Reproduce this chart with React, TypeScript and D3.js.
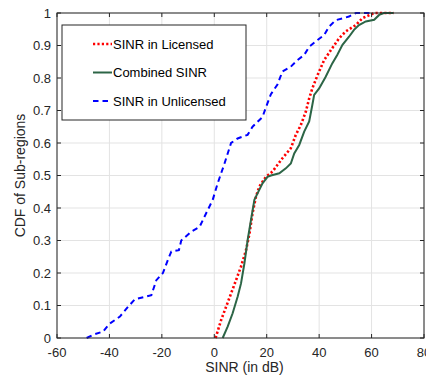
import React from 'react';
import * as d3 from 'd3';

// CDF curves (x = SINR in dB, y = CDF)
const licensedX = [0.5, 2.6, 4.5, 6.4, 8.3, 10.2, 12.1, 13.4, 14.6, 15.9, 17.2, 18.4, 19.7, 22.2, 26, 29.2, 31.1, 33, 34.9, 36.2, 37.4, 39.4, 41.9, 44.5, 47.6, 50.1, 54, 56.5, 61, 68.4];
const licensedY = [0, 0.055, 0.096, 0.137, 0.178, 0.22, 0.27, 0.32, 0.384, 0.435, 0.466, 0.481, 0.496, 0.512, 0.553, 0.584, 0.625, 0.655, 0.696, 0.737, 0.768, 0.809, 0.855, 0.886, 0.922, 0.943, 0.963, 0.984, 1, 1];

const combinedX = [3.2, 5.1, 7, 8.9, 10.2, 11.5, 12.7, 14, 15.3, 16.5, 18.4, 20.3, 21.6, 24.8, 27.3, 29.2, 30.5, 32.4, 34.3, 36.2, 37.4, 38.1, 40, 42.5, 45, 46.9, 48.9, 51.4, 53.3, 55.2, 57.8, 61, 62.9, 64.7, 68.4];
const combinedY = [0, 0.035, 0.076, 0.127, 0.168, 0.23, 0.3, 0.363, 0.425, 0.445, 0.476, 0.496, 0.5, 0.507, 0.522, 0.537, 0.568, 0.594, 0.635, 0.666, 0.717, 0.748, 0.768, 0.804, 0.845, 0.871, 0.902, 0.927, 0.948, 0.963, 0.974, 0.979, 0.994, 1, 1];

const unlicensedX = [-48.7, -46.2, -42.4, -40.1, -36, -32.9, -30.3, -24, -22.1, -19.6, -17.7, -16.4, -13.5, -12.6, -8.8, -5.6, -3.1, -0.6, 1.3, 3.9, 6.4, 8.9, 12.7, 14.6, 18.4, 19.7, 21.6, 24.1, 26, 29.2, 31.7, 34.3, 36.2, 39.4, 41.9, 43.8, 46.3, 51.4, 54, 59.7];
const unlicensedY = [0, 0.01, 0.02, 0.043, 0.066, 0.096, 0.119, 0.132, 0.178, 0.2, 0.24, 0.266, 0.27, 0.3, 0.327, 0.342, 0.384, 0.425, 0.476, 0.537, 0.6, 0.614, 0.625, 0.65, 0.68, 0.71, 0.75, 0.78, 0.82, 0.835, 0.855, 0.871, 0.896, 0.917, 0.932, 0.958, 0.978, 0.989, 1, 1];

const xTicks = [-60, -40, -20, 0, 20, 40, 60, 80];
const yTicks = [0, 0.1, 0.2, 0.3, 0.4, 0.5, 0.6, 0.7, 0.8, 0.9, 1];

const seriesNames = ['SINR in Licensed', 'Combined SINR', 'SINR in Unlicensed'];

const W = 426;
const H = 381;
const font = 'Liberation Sans, Arial, sans-serif';

export default function App() {
  const margin = { top: 13, right: 2, bottom: 43, left: 57 };
  const x = d3.scaleLinear().domain([-60, 80]).range([margin.left, W - margin.right]);
  const y = d3.scaleLinear().domain([0, 1]).range([H - margin.bottom, margin.top]);

  const line = d3.line<[number, number]>()
    .x(d => x(d[0]))
    .y(d => y(d[1]));

  const zip = (xs: number[], ys: number[]) => xs.map((v, i) => [v, ys[i]] as [number, number]);

  const series = [
    { name: seriesNames[0], pts: zip(licensedX, licensedY), color: '#ff0000', width: 2.6, dash: '2.2,2.2' },
    { name: seriesNames[1], pts: zip(combinedX, combinedY), color: '#2c6546', width: 2, dash: null },
    { name: seriesNames[2], pts: zip(unlicensedX, unlicensedY), color: '#0000ff', width: 2, dash: '5.5,4' },
  ];

  const [x0, x1] = x.range();
  const [y0, y1] = y.range();
  const axisColor = '#262626';

  return (
    <div style={{ position: 'fixed', left: 0, top: 0 }}>
      <svg width={W} height={H} style={{ display: 'block', background: '#fff' }}>
        {/* grid */}
        {xTicks.map(t => (
          <line key={'gx' + t} x1={x(t)} x2={x(t)} y1={y0} y2={y1} stroke="#e3e3e3" strokeWidth={1} />
        ))}
        {yTicks.map(t => (
          <line key={'gy' + t} x1={x0} x2={x1} y1={y(t)} y2={y(t)} stroke="#e3e3e3" strokeWidth={1} />
        ))}

        {/* curves */}
        {[series[2], series[0], series[1]].map(s => (
          <path key={s.name} d={line(s.pts) ?? ''} fill="none" stroke={s.color}
            strokeWidth={s.width} strokeDasharray={s.dash ?? undefined} />
        ))}

        {/* axes box + inward ticks */}
        <rect x={x0} y={y1} width={x1 - x0} height={y0 - y1} fill="none" stroke={axisColor} strokeWidth={1} />
        {xTicks.map(t => (
          <g key={'tx' + t}>
            <line x1={x(t)} x2={x(t)} y1={y0} y2={y0 - 4} stroke={axisColor} />
            <line x1={x(t)} x2={x(t)} y1={y1} y2={y1 + 4} stroke={axisColor} />
            <text x={x(t)} y={y0 + 19} textAnchor="middle" fontFamily={font} fontSize={13} fill="#262626">{t}</text>
          </g>
        ))}
        {yTicks.map(t => (
          <g key={'ty' + t}>
            <line x1={x0} x2={x0 + 4} y1={y(t)} y2={y(t)} stroke={axisColor} />
            <line x1={x1} x2={x1 - 4} y1={y(t)} y2={y(t)} stroke={axisColor} />
            <text x={x0 - 6} y={y(t) + 4.5} textAnchor="end" fontFamily={font} fontSize={13} fill="#262626">{t}</text>
          </g>
        ))}

        {/* axis labels */}
        <text x={(x0 + x1) / 2 + 4} y={372} textAnchor="middle" fontFamily={font} fontSize={14} fill="#262626">SINR (in dB)</text>
        <text transform={`translate(25,${(y0 + y1) / 2}) rotate(-90)`} textAnchor="middle" fontFamily={font} fontSize={14} fill="#262626">CDF of Sub-regions</text>

        {/* legend */}
        <g transform="translate(62,25)">
          <rect x={0} y={0} width={184} height={95} fill="#fff" stroke={axisColor} strokeWidth={1} />
          {series.map((s, i) => (
            <g key={'lg' + s.name} transform={`translate(0,${19 + i * 28.5})`}>
              <line x1={31} x2={50} y1={0} y2={0} stroke={s.color} strokeWidth={s.width} strokeDasharray={s.dash ?? undefined} />
              <text x={51} y={4.5} fontFamily={font} fontSize={13} fill="#000">{s.name}</text>
            </g>
          ))}
        </g>
      </svg>
    </div>
  );
}
